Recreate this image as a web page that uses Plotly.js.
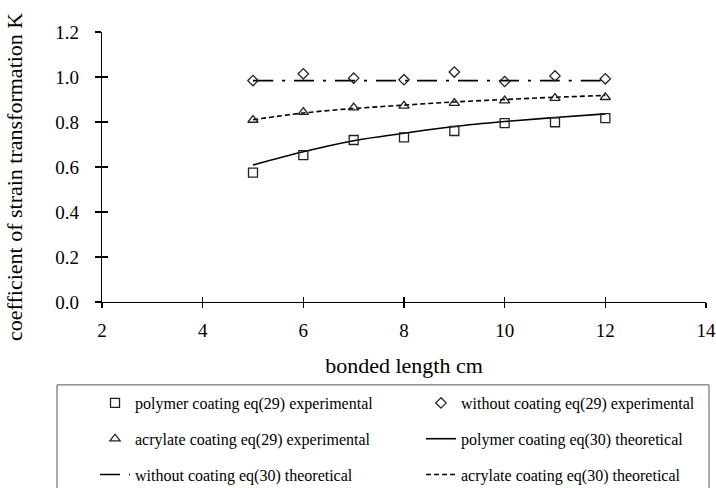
<!DOCTYPE html>
<html>
<head>
<meta charset="utf-8">
<script src="https://cdn.plot.ly/plotly-3.0.1.min.js"></script>
<style>
  html, body { margin: 0; padding: 0; background: #fff; }
  #chart { width: 716px; height: 488px; }
</style>
</head>
<body>
<div id="chart"></div>
<script>
// bonded length (cm)
const bondedLength = [5, 6, 7, 8, 9, 10, 11, 12];

// coefficient of strain transformation K, experimental (eq 29)
const polymerExp  = [0.575, 0.653, 0.720, 0.732, 0.760, 0.795, 0.799, 0.817];
const withoutExp  = [0.984, 1.014, 0.995, 0.988, 1.022, 0.980, 1.005, 0.992];
const acrylateExp = [0.809, 0.844, 0.864, 0.872, 0.884, 0.895, 0.906, 0.910];

// coefficient of strain transformation K, theoretical (eq 30)
const polymerTheo  = [0.609, 0.668, 0.717, 0.750, 0.780, 0.802, 0.820, 0.836];
const withoutTheo  = [0.984, 0.984, 0.984, 0.984, 0.984, 0.984, 0.984, 0.984];
const acrylateTheo = [0.810, 0.840, 0.860, 0.875, 0.889, 0.900, 0.910, 0.918];

const xTicks = [2, 4, 6, 8, 10, 12, 14];
const yTicks = [0.0, 0.2, 0.4, 0.6, 0.8, 1.0, 1.2];

const serif = '"Liberation Serif", "Times New Roman", Times, serif';
const ink = '#000';

function marks(name, y, symbol, size, legend, rank) {
  return {
    x: bondedLength, y: y, name: name, type: 'scatter', mode: 'markers',
    marker: { symbol: symbol, size: size, color: '#222',
              line: { color: '#222', width: 1.3 } },
    legend: legend, legendgroup: name, legendrank: rank
  };
}
function curve(name, y, dash, legend, rank) {
  return {
    x: bondedLength, y: y, name: name, type: 'scatter', mode: 'lines',
    line: { color: ink, width: 1.6, dash: dash, shape: 'spline' },
    legend: legend, legendgroup: name, legendrank: rank
  };
}

const traces = [
  curve('polymer coating eq(30) theoretical', polymerTheo, 'solid', 'legend2', 2),
  curve('without coating eq(30) theoretical', withoutTheo, '20px,9px,3px,9px', 'legend', 3),
  curve('acrylate coating eq(30) theoretical', acrylateTheo, '5px,3px', 'legend2', 3),
  marks('polymer coating eq(29) experimental', polymerExp, 'square-open', 9, 'legend', 1),
  marks('without coating eq(29) experimental', withoutExp, 'diamond-open', 8, 'legend2', 1),
  marks('acrylate coating eq(29) experimental', acrylateExp, 'triangle-up-open', 9, 'legend', 2),
  // invisible carrier for the overlay axes that draw the inner half of the ticks
  { x: [2], y: [0], xaxis: 'x2', yaxis: 'y2', mode: 'markers',
    marker: { opacity: 0 }, showlegend: false, hoverinfo: 'skip' }
];

const legendCommon = {
  orientation: 'v', xref: 'container', yref: 'container',
  xanchor: 'left', yanchor: 'top',
  font: { family: serif, size: 16, color: ink },
  bgcolor: 'rgba(0,0,0,0)', borderwidth: 0, tracegroupgap: 12,
  traceorder: 'grouped', itemwidth: 30
};

const layout = {
  width: 716, height: 488,
  margin: { l: 102, r: 10, t: 32, b: 186, autoexpand: false },
  paper_bgcolor: '#fff', plot_bgcolor: '#fff',
  showlegend: true,
  xaxis: {
    range: [2, 14], tickvals: xTicks, ticktext: xTicks.map(String),
    showgrid: false, zeroline: false, showline: true, linecolor: ink, linewidth: 1.3,
    ticks: 'outside', ticklen: 5, tickwidth: 1.2, tickcolor: ink, ticklabelstandoff: 6,
    tickfont: { family: serif, size: 19, color: ink },
    title: { text: 'bonded length cm', font: { family: serif, size: 22, color: ink }, standoff: 17 }
  },
  yaxis: {
    range: [0, 1.2], tickvals: yTicks, ticktext: yTicks.map(v => v.toFixed(1)),
    showgrid: false, zeroline: false, showline: true, linecolor: ink, linewidth: 1.3,
    ticks: 'outside', ticklen: 6, tickwidth: 1.2, tickcolor: ink, ticklabelstandoff: 12,
    tickfont: { family: serif, size: 19, color: ink }
  },
  xaxis2: { overlaying: 'x', matches: 'x', anchor: 'y2', tickvals: xTicks, showticklabels: false,
    ticks: 'inside', ticklen: 5, tickwidth: 1.2, tickcolor: ink, showgrid: false, zeroline: false, showline: false },
  yaxis2: { overlaying: 'y', matches: 'y', anchor: 'x2', tickvals: yTicks, showticklabels: false,
    ticks: 'inside', ticklen: 6, tickwidth: 1.2, tickcolor: ink, showgrid: false, zeroline: false, showline: false },
  legend: Object.assign({}, legendCommon, { x: 0.1327, y: 0.209 }),
  legend2: Object.assign({}, legendCommon, { x: 0.588, y: 0.209 }),
  annotations: [{
    text: 'coefficient of strain transformation K', textangle: -90,
    xref: 'paper', yref: 'paper', x: -0.144, y: 0.463,
    xanchor: 'center', yanchor: 'middle', showarrow: false,
    font: { family: serif, size: 22, color: ink }
  }],
  shapes: [{
    type: 'rect', xref: 'paper', yref: 'paper',
    x0: -0.0745, x1: 1.005, y0: -0.72, y1: -0.307,
    line: { color: '#555', width: 1 }, fillcolor: 'rgba(0,0,0,0)'
  }]
};

Plotly.newPlot('chart', traces, layout, { staticPlot: true, displayModeBar: false });
</script>
</body>
</html>
